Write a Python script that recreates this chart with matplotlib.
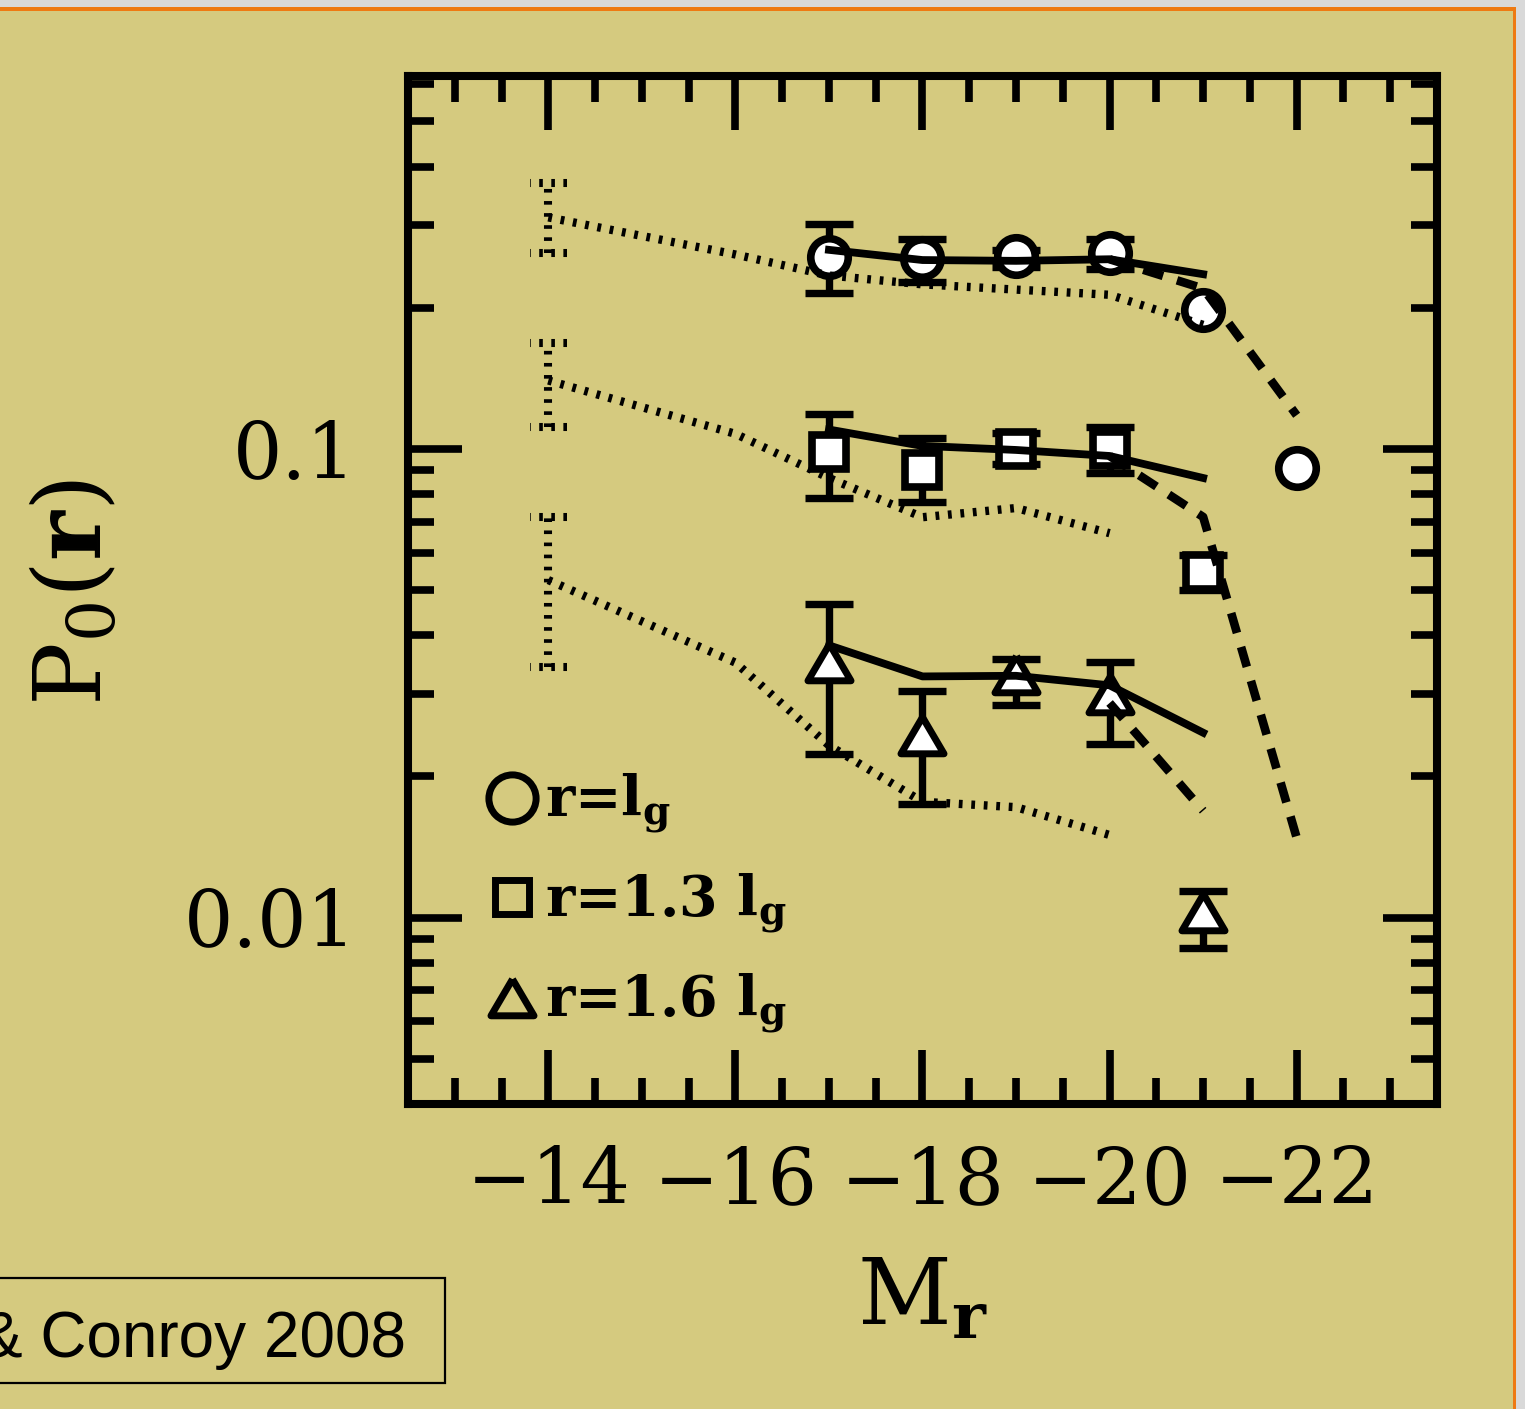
import numpy as np
import matplotlib
matplotlib.use("Agg")
import matplotlib.pyplot as plt
from matplotlib.lines import Line2D
from matplotlib.patches import Rectangle
from matplotlib.ticker import FixedLocator, FixedFormatter, MultipleLocator, LogLocator, NullFormatter

plt.rcParams['font.family'] = ['DejaVu Serif']
plt.rcParams['mathtext.fontset'] = 'dejavuserif'

# -------------------------------------------------
# Data
# -------------------------------------------------
mag = [-17, -18, -19, -20, -21, -22]

# r = l_g  (circles)
p0_c = [0.257, 0.256, 0.258, 0.262, 0.198, 0.091]
p0_c_hi = [0.302, 0.281, 0.266, 0.280, np.nan, np.nan]
p0_c_lo = [0.215, 0.2275, 0.245, 0.242, np.nan, np.nan]

# r = 1.3 l_g  (squares)
p0_s = [0.0985, 0.0902, 0.100, 0.100, 0.0545]
p0_s_hi = [0.1188, 0.1055, 0.108, 0.1115, 0.0593]
p0_s_lo = [0.0786, 0.077, 0.093, 0.0889, 0.0499]

# r = 1.6 l_g  (triangles)
p0_t = [0.0351, 0.0245, 0.0331, 0.0300, 0.01026]
p0_t_hi = [0.0466, 0.0305, 0.0356, 0.0351, 0.01142]
p0_t_lo = [0.0223, 0.0175, 0.0284, 0.0235, 0.00859]

# solid model curves (M_r = -17 ... -21)
sol_mag = [-17, -18, -19, -20, -21]
sol_c = [0.266, 0.253, 0.252, 0.254, 0.236]
sol_s = [0.110, 0.1015, 0.0995, 0.0966, 0.0867]
sol_t = [0.0381, 0.0327, 0.0328, 0.0313, 0.0248]

# dashed model curves
dash_mag = [-20, -21, -22]
dash_c = [0.254, 0.220, 0.118]
dash_s = [0.0966, 0.0716, 0.0148]
dash_t_mag = [-20, -21]
dash_t = [0.0287, 0.0169]

# dotted model curves
dot_c_mag = [-14, -16, -17, -18, -19, -20, -21]
dot_c = [0.312, 0.260, 0.2345, 0.2245, 0.2188, 0.2133, 0.184]
dot_mag = [-14, -16, -17, -18, -19, -20]
dot_s = [0.140, 0.1077, 0.0867, 0.0715, 0.0748, 0.0661]
dot_t = [0.0525, 0.0350, 0.0233, 0.01766, 0.0172, 0.0150]

# dotted error bars at M_r = -14
dot_err_mag = [-14, -14, -14]
dot_err_lo = [0.2625, 0.1115, 0.0342]
dot_err_hi = [0.369, 0.1686, 0.0715]

labels = [r"r=l$_\mathbf{g}$", r"r=1.3 l$_\mathbf{g}$", r"r=1.6 l$_\mathbf{g}$"]

# -------------------------------------------------
# Style
# -------------------------------------------------
BG = "#D5CA7F"
W, H = 1525, 1409
tri = [(0, 0.85), (-1, -0.85), (1, -0.85), (0, 0.85)]

fig = plt.figure(figsize=(W / 100, H / 100), dpi=100, facecolor=BG)
ax = fig.add_axes([408 / W, 1 - 1104 / H, (1437 - 408) / W, (1104 - 76) / H])
ax.set_facecolor(BG)

# -------------------------------------------------
# Error bars
# -------------------------------------------------
eb_kw = dict(fmt="none", ecolor="black", elinewidth=5.3, capsize=17, capthick=5.3, zorder=2)
for x, y, lo, hi in [(mag, p0_c, p0_c_lo, p0_c_hi),
                     (mag[:5], p0_s, p0_s_lo, p0_s_hi),
                     (mag[:5], p0_t, p0_t_lo, p0_t_hi)]:
    y = np.array(y)
    yerr = [y - np.array(lo), np.array(hi) - y]
    ax.errorbar(x, y, yerr=yerr, **eb_kw)

dotted = (0, (0.45, 1.05))
dx = np.array(dot_err_mag)
ax.vlines(dx, dot_err_lo, dot_err_hi, colors="black", lw=5.8, linestyles=[dotted], zorder=2)
ax.hlines(dot_err_lo + dot_err_hi, np.concatenate([dx, dx]) - 0.2, np.concatenate([dx, dx]) + 0.2,
          colors="black", lw=5.8, linestyles=[dotted], zorder=2)

# -------------------------------------------------
# Markers
# -------------------------------------------------
ax.plot(mag, p0_c, ls="none", marker="o", ms=27, mfc="white", mec="black", mew=5.5, zorder=3)
ax.plot(mag[:5], p0_s, ls="none", marker="s", ms=25, mfc="white", mec="black", mew=5.5, zorder=3)
ax.plot(mag[:5], p0_t, ls="none", marker=tri, ms=31, mfc="white", mec="black", mew=5,
        zorder=3)

# -------------------------------------------------
# Model curves
# -------------------------------------------------
for y in (sol_c, sol_s, sol_t):
    ax.plot(sol_mag, y, color="black", lw=5.6, zorder=4)
for xm, y in ((dash_mag, dash_c), (dash_mag, dash_s), (dash_t_mag, dash_t)):
    ax.plot(xm, y, color="black", lw=6.2, dashes=(2.4, 1.7), zorder=4)
for xm, y in ((dot_c_mag, dot_c), (dot_mag, dot_s), (dot_mag, dot_t)):
    ax.plot(xm, y, color="black", lw=6.0, dashes=(0.45, 1.05), zorder=4)

# -------------------------------------------------
# Axes
# -------------------------------------------------
ax.set_yscale("log")
ax.set_xlim(-12.5, -23.5)
ax.set_ylim(0.004, 0.625)

ax.xaxis.set_major_locator(FixedLocator([-14, -16, -18, -20, -22]))
ax.xaxis.set_minor_locator(MultipleLocator(0.5))
ax.yaxis.set_major_locator(FixedLocator([0.01, 0.1]))
ax.yaxis.set_major_formatter(FixedFormatter(["0.01", "0.1"]))
ax.yaxis.set_minor_locator(LogLocator(base=10, subs=np.arange(2, 10)))
ax.yaxis.set_minor_formatter(NullFormatter())

ax.tick_params(which="both", direction="in", top=True, right=True, width=5.5, color="black")
ax.tick_params(which="major", length=39, labelsize=56)
ax.tick_params(which="minor", length=19)
ax.tick_params(axis="x", which="major", pad=29)
ax.tick_params(axis="y", which="major", pad=37)
for s in ax.spines.values():
    s.set_linewidth(5.8)

ax.set_xlabel(r"$\mathrm{M}_\mathbf{r}$", fontsize=66, va="center")
ax.xaxis.set_label_coords(0.5, -0.19)
ax.set_ylabel(r"P$_\mathrm{0}$($\mathbf{r}$)", fontsize=68, va="center")
ax.yaxis.set_label_coords(-0.3236, 0.498)

# -------------------------------------------------
# Legend
# -------------------------------------------------
handles = [
    Line2D([], [], ls="none", marker="o", ms=34, mfc="none", mec="black", mew=5),
    Line2D([], [], ls="none", marker="s", ms=24, mfc="none", mec="black", mew=5),
    Line2D([], [], ls="none", marker=tri, ms=31, mfc="none", mec="black", mew=5),
]
ax.legend(handles, labels, loc="upper left", bbox_to_anchor=(0.081, 0.323),
          frameon=False, prop={"weight": "bold", "size": 40},
          handlelength=0.74, handletextpad=0.22, labelspacing=0.64,
          borderpad=0, borderaxespad=0, numpoints=1)

# -------------------------------------------------
# Slide frame and citation box
# -------------------------------------------------
fig.patches.append(Rectangle((0, 1 - 7.3 / H), 1, 7.3 / H, transform=fig.transFigure,
                             facecolor="#D9D9D9", edgecolor="none", zorder=0))
fig.patches.append(Rectangle((0, 1 - 10.7 / H), 1516 / W, 3.4 / H, transform=fig.transFigure,
                             facecolor="#EE7A12", edgecolor="none", zorder=0))
fig.patches.append(Rectangle((1516 / W, 0), 9 / W, 1, transform=fig.transFigure,
                             facecolor="#D9D9D9", edgecolor="none", zorder=0))
fig.patches.append(Rectangle((1513 / W, 0), 3 / W, 1 - 7.3 / H, transform=fig.transFigure,
                             facecolor="#EE7A12", edgecolor="none", zorder=0))
fig.patches.append(Rectangle((-10 / W, 1 - 1383 / H), 455 / W, 105 / H, transform=fig.transFigure,
                             facecolor="none", edgecolor="black", lw=1.6, zorder=1))
fig.text(406 / W, 1 - 1357 / H, "& Conroy 2008", ha="right", va="baseline",
         fontsize=46, family=["Liberation Sans", "DejaVu Sans"])

fig.savefig("out.png", dpi=100, facecolor=BG)
